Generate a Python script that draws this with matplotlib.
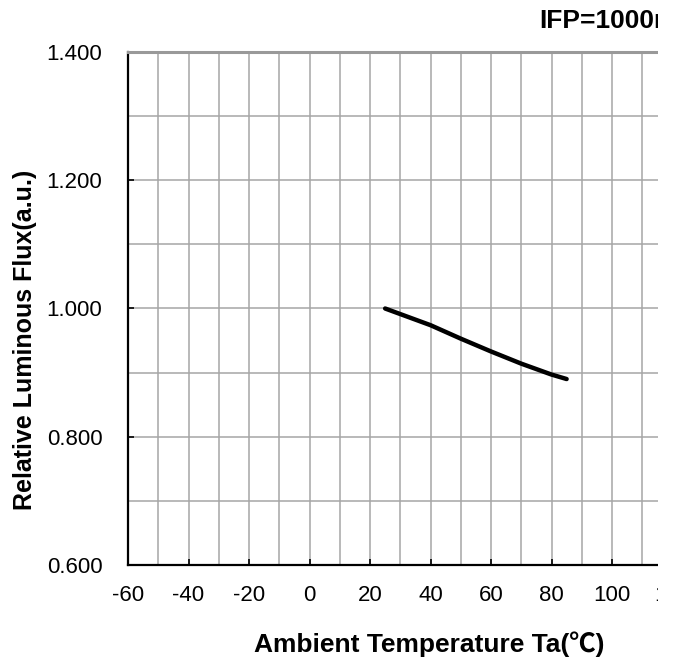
import matplotlib
matplotlib.use("Agg")
import matplotlib.pyplot as plt
from matplotlib.patches import Rectangle
from matplotlib.ticker import MultipleLocator, FormatStrFormatter

# relative luminous flux vs ambient temperature
temp = [25, 40, 50, 60, 70, 80, 85]
flux = [1.000, 0.974, 0.953, 0.933, 0.914, 0.897, 0.890]

title = "IFP=1000mA"
xlabel = "Ambient Temperature Ta(\u2103)"
ylabel = "Relative Luminous Flux(a.u.)"

plt.rcParams["font.family"] = ["Liberation Sans", "Noto Sans CJK SC", "DejaVu Sans"]
plt.rcParams["axes.unicode_minus"] = False

W, H = 677, 661
fig = plt.figure(figsize=(W / 100, H / 100), dpi=100)
ax = fig.add_axes([128 / W, (H - 565) / H, 544.5 / W, 513 / H])

ax.set_xlim(-60, 120)
ax.set_ylim(0.6, 1.4)
ax.xaxis.set_major_locator(MultipleLocator(20))
ax.xaxis.set_minor_locator(MultipleLocator(10))
ax.yaxis.set_major_locator(MultipleLocator(0.2))
ax.yaxis.set_minor_locator(MultipleLocator(0.1))
ax.yaxis.set_major_formatter(FormatStrFormatter("%.3f"))

ax.grid(True, which="both", color="#a6a6a6", lw=1.1)
ax.set_axisbelow(True)
ax.tick_params(which="major", direction="in", length=4, width=1.2,
               color="black", labelsize=16, top=False, right=False)
ax.tick_params(axis="x", which="major", pad=14.5)
ax.tick_params(axis="y", which="major", pad=18.5)
ax.tick_params(which="minor", length=0)

for side in ("left", "bottom"):
    ax.spines[side].set_color("black")
    ax.spines[side].set_linewidth(1.6)
ax.spines["top"].set_color("#999999")
ax.spines["top"].set_linewidth(2.2)
ax.spines["right"].set_visible(False)

ax.plot(temp, flux, color="black", lw=3.2, solid_capstyle="round")

ax.set_xlabel(xlabel, fontsize=19, fontweight="bold")
ax.xaxis.set_label_coords((429 - 128) / 544.5, -(631 - 565) / 513)
ax.set_ylabel(ylabel, fontsize=18, fontweight="bold")
ax.yaxis.set_label_coords((37 - 128) / 544.5, (565 - 340) / 513)

fig.text(539 / W, 1 - 28 / H, title, fontsize=19, fontweight="bold",
         ha="left", va="baseline")

# the sheet is trimmed on the right
fig.add_artist(Rectangle((658 / W, 0), 1, 1, transform=fig.transFigure,
                         facecolor="white", edgecolor="none", zorder=10))

fig.savefig("out.png", dpi=100)
